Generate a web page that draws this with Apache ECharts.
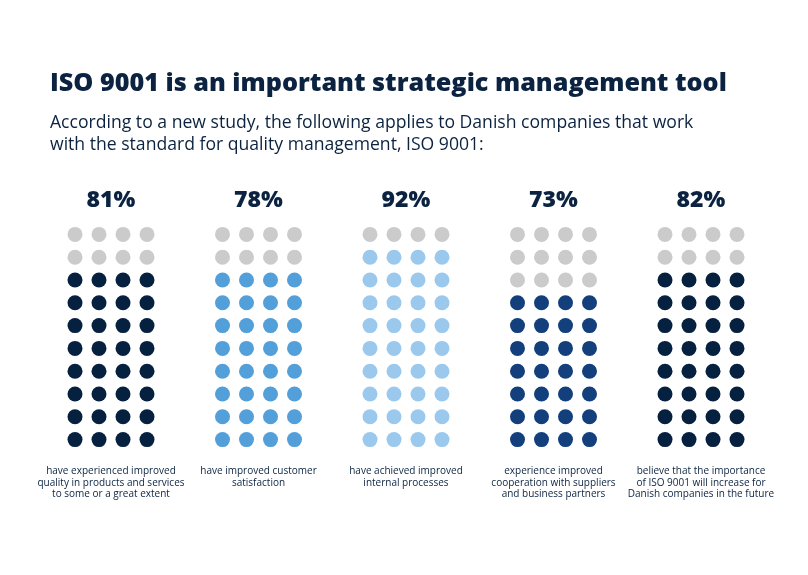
<!DOCTYPE html>
<html>
<head>
<meta charset="utf-8">
<script src="https://cdn.jsdelivr.net/npm/echarts@6/dist/echarts.min.js"></script>
<style>
html,body{margin:0;padding:0;background:#fff;}
#chart{width:808px;height:575px;}
</style>
</head>
<body>
<div id="chart"></div>
<script>
// ---- data ----
const titleText = 'ISO 9001 is an important strategic management tool';
const subtitleText = 'According to a new study, the following applies to Danish companies that work\nwith the standard for quality management, ISO 9001:';
const categories = [
  'have experienced improved\nquality in products and services\nto some or a great extent',
  'have improved customer\nsatisfaction',
  'have achieved improved\ninternal processes',
  'experience improved\ncooperation with suppliers\nand business partners',
  'believe that the importance\nof ISO 9001 will increase for\nDanish companies in the future'
];
const percentages = [81, 78, 92, 73, 82];
const filledDots = [32, 32, 36, 28, 32];
const gridColumns = ['1', '2', '3', '4'];
const gridRows = ['1', '2', '3', '4', '5', '6', '7', '8', '9', '10'];
const groupColors = ['#06203f', '#529fd9', '#9bc8ed', '#133f7d', '#06203f'];
const emptyColor = '#cccbcc';

// ---- layout ----
const textColor = '#0b2340';
const fontFamily = '"Open Sans", "Noto Sans", sans-serif';
const firstCenter = 111, groupStep = 147.5;
const gridW = 96, gridTop = 223, gridH = 228;

const chart = echarts.init(document.getElementById('chart'));
const grids = [], xAxes = [], yAxes = [], series = [], graphics = [];

percentages.forEach((p, g) => {
  const cx = firstCenter + g * groupStep;
  grids.push({left: cx - gridW / 2, top: gridTop, width: gridW, height: gridH});
  xAxes.push({type: 'category', gridIndex: g, data: gridColumns, show: false});
  yAxes.push({type: 'category', gridIndex: g, data: gridRows, show: false});
  const filled = [], empty = [];
  gridRows.forEach((r, ri) => {
    gridColumns.forEach((c, ci) => {
      const idx = ri * gridColumns.length + ci;
      (idx < filledDots[g] ? filled : empty).push([ci, ri]);
    });
  });
  series.push({type: 'scatter', xAxisIndex: g, yAxisIndex: g, symbol: 'circle', symbolSize: 15,
    itemStyle: {color: groupColors[g], opacity: 1}, data: filled, silent: true});
  series.push({type: 'scatter', xAxisIndex: g, yAxisIndex: g, symbol: 'circle', symbolSize: 15,
    itemStyle: {color: emptyColor, opacity: 1}, data: empty, silent: true});
  graphics.push({type: 'text', x: cx, y: 200, style: {text: p + '%', fill: textColor,
    font: '800 23px ' + fontFamily, textAlign: 'center', textVerticalAlign: 'middle'}});
  graphics.push({type: 'text', x: cx, y: 466, style: {text: categories[g], fill: textColor,
    font: '10px ' + fontFamily, textAlign: 'center', textVerticalAlign: 'top', lineHeight: 11.3}});
});

graphics.push({type: 'text', x: 50, y: 84, style: {text: titleText, fill: textColor,
  font: '800 25.2px ' + fontFamily, textAlign: 'left', textVerticalAlign: 'middle'}});
graphics.push({type: 'text', x: 50, y: 112, style: {text: subtitleText, fill: textColor,
  font: '500 17.6px ' + fontFamily, textAlign: 'left', textVerticalAlign: 'top', lineHeight: 22}});

chart.setOption({
  backgroundColor: '#ffffff',
  animation: false,
  grid: grids, xAxis: xAxes, yAxis: yAxes, series: series,
  graphic: graphics
});
</script>
</body>
</html>
